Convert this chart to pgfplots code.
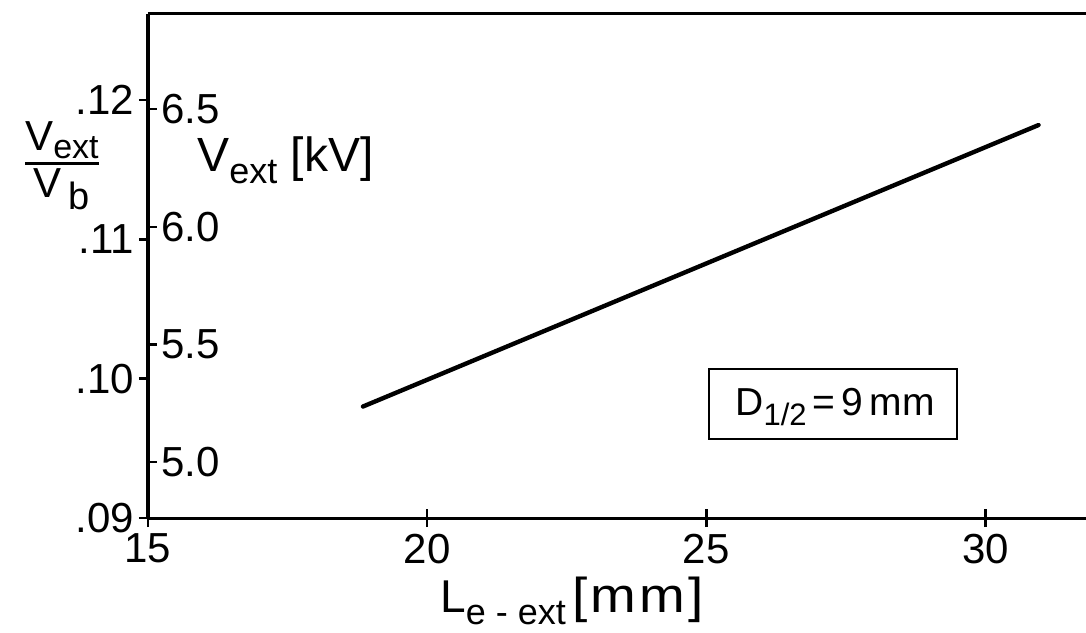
\documentclass[border=0pt]{standalone}
\usepackage{pgfplots}
\pgfplotsset{compat=1.18}
\usepackage{fontspec}
\setmainfont{Liberation Sans}
\newfontfamily\widefont[FakeStretch=1.12,LetterSpace=7]{Liberation Sans}
\newcommand\fs[1]{\fontsize{#1}{#1}\selectfont}
\begin{document}
\begin{tikzpicture}
\pgfplotsset{
  base/.style={
    scale only axis, width=469pt, height=252pt,
    at={(0,0)}, anchor=south west,
    xmin=15, xmax=31.8,
    /pgf/number format/assume math mode=true,
    tick style={line width=1.2pt, black},
    ticklabel style={font=\fs{21}},
  }
}
% axis 1: main frame, left ratio ticks, data
\begin{axis}[base,
  ymin=0.09, ymax=0.12617,
  axis x line*=box, axis y line*=left,
  axis line style={-, line width=1.5pt},
  xtick=\empty,
  ytick={0.09,0.10,0.11,0.12},
  yticklabels={.09,.10,.11,.12},
  ytick align=outside, major tick length=4.5pt,
  yticklabel style={xshift=1pt},
  clip=false,
]
\addplot[black, line width=2.2pt, line cap=round] coordinates {(18.85,0.0980) (30.95,0.1182)};
% D box
\node[draw, line width=1.2pt, minimum width=124pt, minimum height=35pt, inner sep=0pt]
  at ([xshift=342.5pt,yshift=57pt]rel axis cs:0,0) {};
\node[anchor=base west, inner sep=0pt, font=\fs{19.5}] at ([xshift=293.5pt,yshift=51.5pt]rel axis cs:0,0)
  {D\raisebox{-5pt}{\fs{15.5}1/2}\hspace{3pt}=\hspace{3pt}9\,mm};
% fraction label
\node[font=\fs{21}, inner sep=0pt] at ([xshift=-43pt,yshift=-2pt]rel axis cs:0,0.707)
  {${\hbox{V\raisebox{-4pt}{\fs{17}ext}}\above 1.6pt\hbox{V\,\raisebox{-6pt}{\fs{19}b}}}$};
% kV label
\node[anchor=base west, inner sep=0pt, font=\fs{24}] at ([xshift=24.5pt,yshift=173pt]rel axis cs:0,0)
  {V\raisebox{-6pt}{\fs{18}ext} [kV]};
% x label
\node[anchor=base west, inner sep=0pt, font=\fs{23}] at ([xshift=146pt,yshift=-47pt]rel axis cs:0,0)
  {L\raisebox{-6pt}{\fs{18}e\hspace{5pt}-\hspace{5pt}ext}\hspace{3pt}{\widefont\fs{24.5}[mm]}};
\end{axis}
% axis 2: inner kV ticks
\begin{axis}[base,
  ymin=4.762, ymax=6.904,
  axis x line=none, axis y line*=left,
  axis line style={-, line width=1.5pt},
  ytick={5.0,5.5,6.0,6.5},
  yticklabel style={anchor=west, xshift=3pt, /pgf/number format/fixed, /pgf/number format/fixed zerofill, /pgf/number format/precision=1},
  ytick align=inside, major tick length=4.5pt,
]
\end{axis}
% axis 3: x ticks
\begin{axis}[base,
  ymin=0, ymax=1,
  axis y line=none, axis x line*=bottom,
  axis line style={-, line width=1.5pt},
  xtick={15,20,25,30},
  xtick align=center, major tick length=9pt,
]
\end{axis}
\pgfresetboundingbox
\useasboundingbox (-74pt,-57pt) rectangle (469pt,259pt);
\end{tikzpicture}
\end{document}
